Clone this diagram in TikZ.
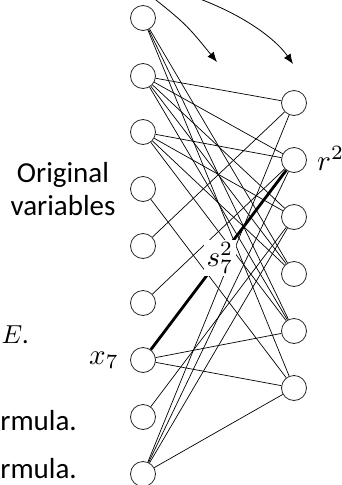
\documentclass[tikz,border=0pt]{standalone}
\usepackage{graphicx}
\usepackage{fontspec}
\setmainfont{Carlito}
\usetikzlibrary{arrows.meta}
\newcommand\mylbl[1]{\scalebox{2.9}{$#1$}}
\begin{document}
\begin{tikzpicture}[x=1pt,y=-1pt,
  vnode/.style={circle,draw=black!85,line width=0.8pt,fill=white,minimum size=25pt,inner sep=0pt},
  thin/.style={line width=0.7pt,black},
  bold/.style={line width=2.8pt,black},
  flow/.style={line width=0.8pt,-{Latex[length=10pt,width=8pt]}},
  bigtext/.style={font=\fontsize{29}{33}\selectfont,inner sep=0pt},
  mathlbl/.style={inner sep=0pt}]
\useasboundingbox (0,0) rectangle (342,485);
\clip (0,0) rectangle (342,485);
% left column
\foreach \i/\y in {1/18,2/76,3/132,4/189,5/246,6/303,7/360,8/417,9/474}
  \node[vnode] (L\i) at (143,\y) {};
% right column
\foreach \i/\y in {1/103,2/160,3/217,4/274,5/331,6/388}
  \node[vnode] (R\i) at (294,\y) {};
% thin edges
\foreach \a/\b in {1/4,1/5,1/6,2/1,2/2,2/3,2/4,2/5,3/2,3/3,3/4,3/5,4/6,5/1,6/2,7/5,7/6,8/3,9/1,9/2,9/3,9/6}
  \draw[thin] (L\a) -- (R\b);
% bold edge with label
\draw[bold] (L7) -- node[fill=white,inner xsep=2.5pt,inner ysep=2.5pt,pos=0.51] (s72) {\mylbl{s_7^2}} (R2);
% arrows from above
\coordinate (a1s) at (146,-8);
\coordinate (a1e) at (217,62);
\coordinate (a2s) at (186,-6);
\coordinate (a2e) at (293,64);
\draw[flow] (a1s) .. controls (186,24) .. (a1e);
\draw[flow] (a2s) .. controls (240,12) and (275,38) .. (a2e);
% labels
\node[bigtext,anchor=base] (orig) at (63,182) {Original};
\node[bigtext,anchor=base] (vars) at (63,215) {variables};
\node[mathlbl,anchor=base west] (x7) at (89,364) {\mylbl{x_7}};
\node[mathlbl,anchor=base west] (r2) at (317,170) {\mylbl{r^2}};
\node[mathlbl,anchor=base east] (inE) at (29,343) {\scalebox{2.6}{$\in E$.}};
\node[bigtext,anchor=base east] (f1) at (77,430) {rmula.};
\node[bigtext,anchor=base east] (f2) at (77,478) {rmula.};
\end{tikzpicture}
\end{document}
